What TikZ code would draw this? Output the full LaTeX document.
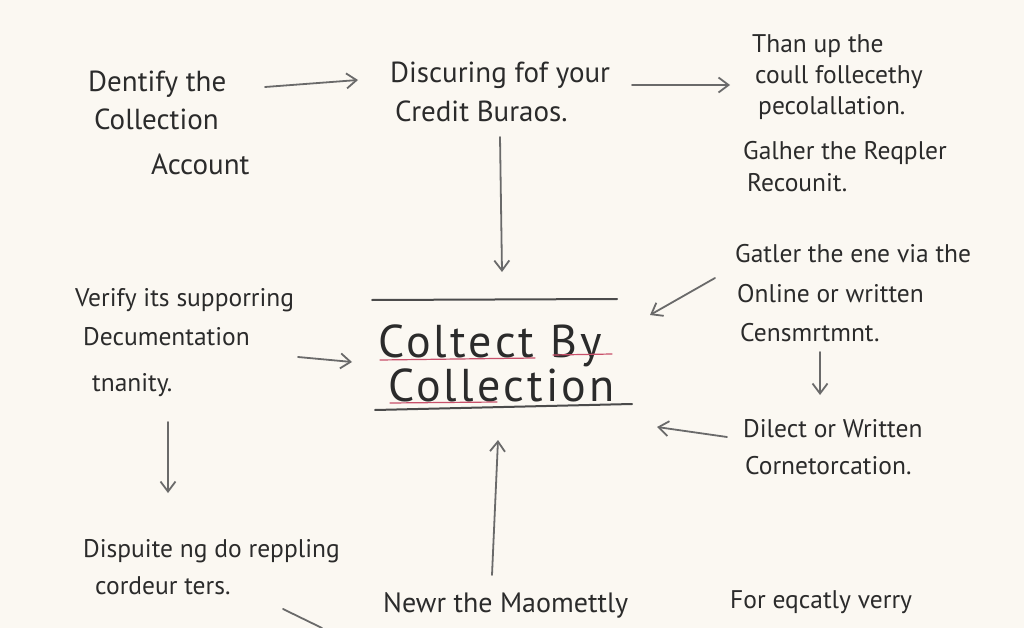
\documentclass[tikz,border=0pt]{standalone}
\usepackage{fontspec}
\setmainfont{PT Sans}
\newfontfamily\titlefont[LetterSpace=7]{PT Sans}
\usetikzlibrary{arrows.meta}
\definecolor{paper}{HTML}{FBF8F2}
\definecolor{ink}{HTML}{2B2B2B}
\definecolor{arrowgray}{HTML}{6A6A6A}
\definecolor{redline}{HTML}{C8506A}
\tikzset{
  lbl/.style={anchor=north west, inner sep=0pt, align=left, text=ink, font=\fontsize{29}{38}\selectfont},
  lblsmall/.style={lbl, font=\fontsize{25.5}{31}\selectfont},
  ttl/.style={anchor=base west, inner sep=0pt, text=ink, font=\titlefont\fontsize{46}{46}\selectfont},
  arr/.style={draw=arrowgray, line width=1.8pt, line cap=round, -{Straight Barb[length=10pt,width=15pt,line width=1.8pt]}},
  rule/.style={draw=ink!85, line width=2pt, line cap=round},
  redu/.style={draw=redline, line width=1.2pt, line cap=round}
}
\begin{document}
\begin{tikzpicture}[x=1pt,y=-1pt]
\fill[paper] (0,0) rectangle (1024,628);
\useasboundingbox (0,0) rectangle (1024,628);

% text blocks
\node[lbl] (dentify) at (88,71) {Dentify the\\[0pt]\hspace*{6pt}Collection\\[7pt]\hspace*{63pt}Account};
\node[lbl] (discuring) at (390,62) {Discuring fof your\\[1pt]\hspace*{5pt}Credit Buraos.};
\node[lblsmall] (than) at (752,34) {Than up the\\\hspace*{3pt}coull follecethy\\\hspace*{6pt}pecolallation.};
\node[lblsmall] (galher) at (743,141) {Galher the Reqpler\\[1pt]\hspace*{4pt}Recounit.};
\node[lblsmall] (gatler) at (735,244) {Gatler the ene via the\\[9pt]\hspace*{2pt}Online or written\\[8pt]\hspace*{5pt}Censmrtmnt.};
\node[lblsmall] (dilect) at (743,419) {Dilect or Written\\[6pt]\hspace*{2pt}Cornetorcation.};
\node[lblsmall] (verify) at (75,288) {Verify its supporring\\[8pt]\hspace*{8pt}Decumentation\\[15pt]\hspace*{17pt}tnanity.};
\node[lblsmall] (dispute) at (83,539) {Dispuite ng do reppling\\[6pt]\hspace*{12pt}cordeur ters.};
\node[lblsmall,font=\fontsize{28}{31}\selectfont] (newr) at (383,592) {Newr the Maomettly};
\node[lblsmall] (forq) at (730,590) {For eqcatly verry};

% title
\node[ttl] (title1) at (378,357) {Coltect By};
\node[ttl] (title2) at (388,401) {Collection};
\draw[rule] (372,300) -- (617,299);
\draw[rule] (375,410) -- (632,404);
\draw[redu] (380,360) -- (535,358);
\draw[redu] (553,355) -- (612,354);
\draw[redu] (390,403) -- (497,402);

% connectors
\coordinate (t1) at (358,80);
\coordinate (t2) at (730,85);
\coordinate (tTop) at (502,272);
\coordinate (tRight1) at (650,315);
\coordinate (tRight2) at (657,427);
\coordinate (tLeft) at (352,362);
\coordinate (tBottom) at (498,440);
\coordinate (dDown) at (168,493);
\coordinate (gDown) at (820,395);
\coordinate (cut) at (322,628);

\draw[arr] (265,87) -- (t1);
\draw[arr] (632,85) -- (t2);
\draw[arr] (500,137) -- (tTop);
\draw[arr] (715,278) -- (tRight1);
\draw[arr] (820,352) -- (gDown);
\draw[arr] (727,437) -- (tRight2);
\draw[arr] (298,357) -- (tLeft);
\draw[arr] (168,422) -- (dDown);
\draw[arr] (492,575) -- (tBottom);
\draw[draw=arrowgray, line width=1.8pt, line cap=round] (283,609) -- (cut);
\end{tikzpicture}
\end{document}
